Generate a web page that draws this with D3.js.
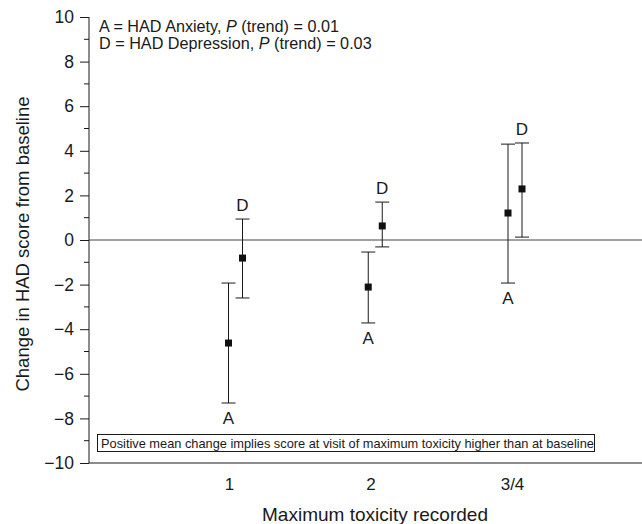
<!DOCTYPE html>
<html>
<head>
<meta charset="utf-8">
<script src="https://cdn.jsdelivr.net/npm/d3@7/dist/d3.min.js"></script>
<style>
  body { margin: 0; background: #fff; }
  svg { font-family: "Liberation Sans", Arial, sans-serif; }
</style>
</head>
<body>
<svg id="chart" width="642" height="524"></svg>
<script>
// categories and values
const categories = ["1", "2", "3/4"];
const anxietyMean = [-4.62, -2.11, 1.21];
const anxietyLow = [-7.31, -3.72, -1.93];
const anxietyHigh = [-1.93, -0.54, 4.30];
const depressionMean = [-0.81, 0.63, 2.29];
const depressionLow = [-2.60, -0.31, 0.13];
const depressionHigh = [0.94, 1.70, 4.35];
const yMajorTicks = [-10, -8, -6, -4, -2, 0, 2, 4, 6, 8, 10];
const yMinorTicks = [-9, -7, -5, -3, -1, 1, 3, 5, 7, 9];

const ink = "#1a1a1a";
const svg = d3.select("#chart");

const y = d3.scaleLinear().domain([-10, 10]).range([463, 17]);
const xLabel = d3.scalePoint().domain(categories).range([229, 512]);
const xGroup = d3.scalePoint().domain(categories).range([235.5, 515]);

const series = [
  { key: "A", off: -7, mean: anxietyMean, lo: anxietyLow, hi: anxietyHigh, labelBelow: true },
  { key: "D", off: 7, mean: depressionMean, lo: depressionLow, hi: depressionHigh, labelBelow: false }
];

// y axis
const yAxis = svg.append("g")
  .attr("transform", "translate(89,0)")
  .call(d3.axisLeft(y).tickValues(yMajorTicks).tickSize(9).tickPadding(6));
yAxis.select(".domain").remove();
yAxis.selectAll("line").attr("stroke", ink);
yAxis.selectAll("text").attr("font-size", 17.5).attr("fill", ink);

svg.append("g").selectAll("line").data(yMinorTicks).join("line")
  .attr("x1", 84).attr("x2", 89)
  .attr("y1", d => y(d)).attr("y2", d => y(d))
  .attr("stroke", ink);

svg.append("line")
  .attr("x1", 89).attr("x2", 89).attr("y1", y(10)).attr("y2", y(-10))
  .attr("stroke", ink);

// bottom axis line and zero line
svg.append("line")
  .attr("x1", 89).attr("x2", 642).attr("y1", y(-10)).attr("y2", y(-10))
  .attr("stroke", ink);
svg.append("line")
  .attr("x1", 89).attr("x2", 642).attr("y1", y(0)).attr("y2", y(0))
  .attr("stroke", "#444");

// x axis labels
const xAxis = svg.append("g")
  .attr("transform", `translate(0,${y(-10)})`)
  .call(d3.axisBottom(xLabel).tickSize(0).tickPadding(15));
xAxis.select(".domain").remove();
xAxis.selectAll("text").attr("font-size", 17).attr("fill", ink);

// error bars, markers, letters
series.forEach(s => {
  const g = svg.append("g");
  const px = i => xGroup(categories[i]) + s.off;
  const rows = categories.map((c, i) => i);
  g.selectAll(".bar").data(rows).join("line")
    .attr("x1", px).attr("x2", px)
    .attr("y1", i => y(s.lo[i])).attr("y2", i => y(s.hi[i]))
    .attr("stroke", ink);
  [s.lo, s.hi].forEach(arr => {
    g.selectAll(null).data(rows).join("line")
      .attr("x1", i => px(i) - 7).attr("x2", i => px(i) + 7)
      .attr("y1", i => y(arr[i])).attr("y2", i => y(arr[i]))
      .attr("stroke", ink);
  });
  g.selectAll("rect").data(rows).join("rect")
    .attr("x", i => px(i) - 3.5).attr("y", i => y(s.mean[i]) - 3.5)
    .attr("width", 7).attr("height", 7)
    .attr("fill", "#111");
  g.selectAll("text").data(rows).join("text")
    .attr("x", px)
    .attr("y", i => s.labelBelow ? y(s.lo[i]) + 21 : y(s.hi[i]) - 8)
    .attr("text-anchor", "middle")
    .attr("font-size", 17).attr("fill", ink)
    .text(s.key);
});

// legend text
const legend = [
  ["A = HAD Anxiety, ", "0.01"],
  ["D = HAD Depression, ", "0.03"]
];
legend.forEach((l, i) => {
  const t = svg.append("text")
    .attr("x", 99).attr("y", 32 + i * 17)
    .attr("font-size", 16.2).attr("fill", ink);
  t.append("tspan").text(l[0]);
  t.append("tspan").attr("font-style", "italic").text("P");
  t.append("tspan").text(" (trend) = " + l[1]);
});

// footnote box
svg.append("rect")
  .attr("x", 97.5).attr("y", 434.5).attr("width", 497).attr("height", 17)
  .attr("fill", "#fff").attr("stroke", ink);
svg.append("text")
  .attr("x", 101).attr("y", 447.5)
  .attr("font-size", 12.8).attr("fill", ink)
  .text("Positive mean change implies score at visit of maximum toxicity higher than at baseline");

// axis titles
svg.append("text")
  .attr("transform", "translate(29,244) rotate(-90)")
  .attr("text-anchor", "middle")
  .attr("font-size", 18.5).attr("fill", ink)
  .text("Change in HAD score from baseline");
svg.append("text")
  .attr("x", 375).attr("y", 521)
  .attr("text-anchor", "middle")
  .attr("font-size", 19).attr("fill", ink)
  .text("Maximum toxicity recorded");
</script>
</body>
</html>
